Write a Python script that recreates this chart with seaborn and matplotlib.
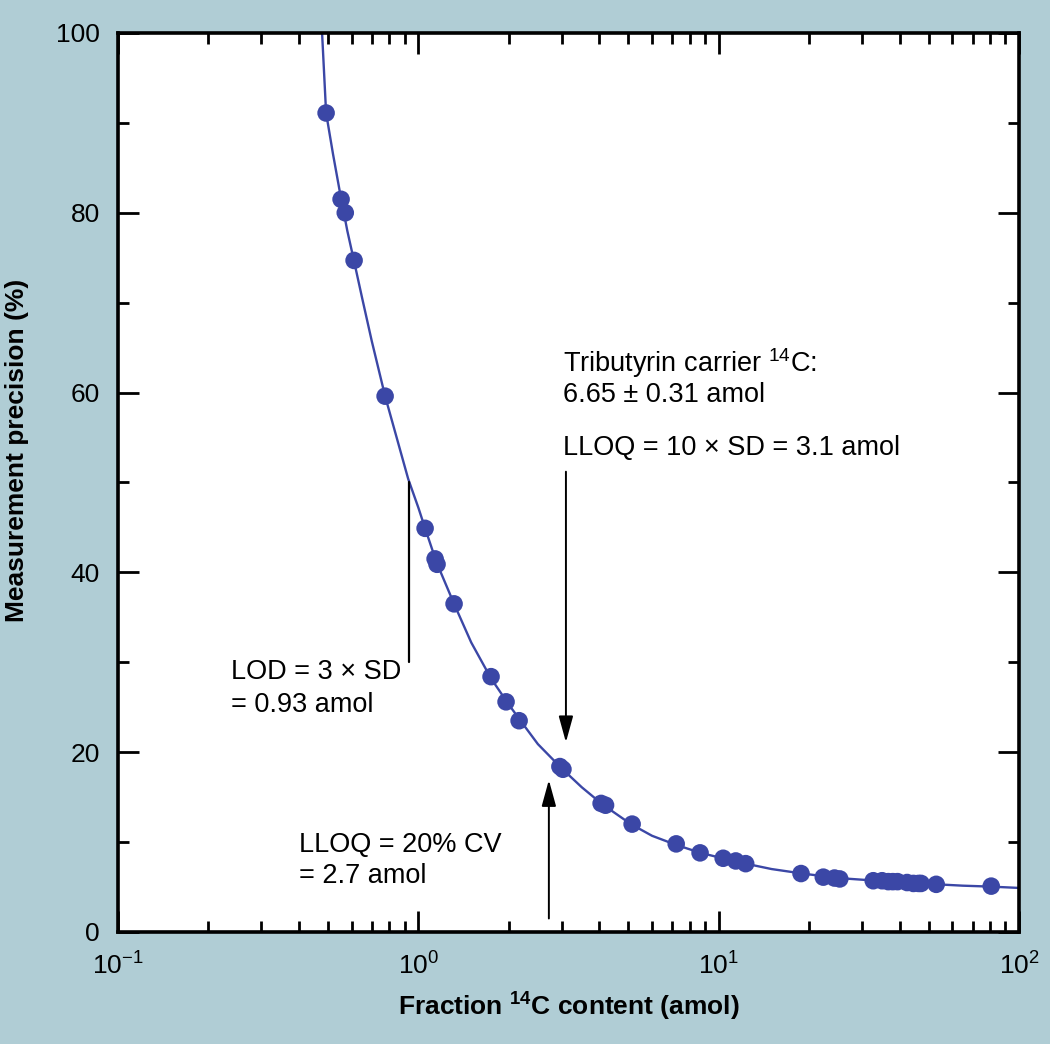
import numpy as np
import pandas as pd
import matplotlib
matplotlib.use('Agg')
import matplotlib.pyplot as plt
from matplotlib.ticker import MultipleLocator, LogLocator
import seaborn as sns

# measured points (amol, % precision)
amount = [0.493, 0.553, 0.571, 0.611, 0.775, 1.053, 1.137, 1.154, 1.315, 1.746,
          1.959, 2.165, 2.96, 3.03, 4.06, 4.2, 5.15, 7.22, 8.67, 10.35,
          11.4, 12.3, 18.8, 22.3, 24.3, 25.3, 32.7, 35.0, 36.7, 38.0,
          39.4, 42.4, 44.5, 46.3, 47.2, 53.0, 80.8]
precision = [91.1, 81.5, 80.0, 74.7, 59.6, 44.9, 41.5, 40.9, 36.5, 28.4,
             25.6, 23.5, 18.4, 18.1, 14.3, 14.1, 12.0, 9.8, 8.8, 8.2,
             7.9, 7.6, 6.5, 6.1, 6.0, 5.9, 5.7, 5.7, 5.6, 5.6,
             5.6, 5.5, 5.4, 5.4, 5.4, 5.3, 5.1]

# fitted curve
fit_x = [0.478, 0.493, 0.52, 0.55, 0.58, 0.611, 0.65, 0.70, 0.775, 0.85,
         0.925, 1.0, 1.053, 1.15, 1.315, 1.5, 1.746, 2.0, 2.2, 2.5,
         3.0, 3.5, 4.1, 5.1, 6.0, 7.2, 8.7, 10.3, 12.3, 15.0,
         19.0, 25.0, 32.0, 40.0, 50.0, 65.0, 80.0, 100.0]
fit_y = [100.0, 91.1, 86.5, 82.0, 78.0, 74.6, 70.5, 65.7, 59.6, 54.8,
         50.4, 47.2, 44.9, 41.1, 36.5, 32.2, 28.2, 25.3, 23.4, 20.9,
         18.2, 16.1, 14.2, 12.0, 10.7, 9.7, 8.8, 8.2, 7.6, 7.0,
         6.5, 6.0, 5.75, 5.5, 5.35, 5.15, 5.05, 4.9]

pts = pd.DataFrame({'x': amount, 'y': precision})
fit = pd.DataFrame({'x': fit_x, 'y': fit_y})

sns.set_style('ticks')
plt.rcParams['font.family'] = ['Liberation Sans', 'DejaVu Sans']
plt.rcParams['mathtext.fontset'] = 'custom'
plt.rcParams['mathtext.rm'] = 'Liberation Sans'
plt.rcParams['mathtext.bf'] = 'Liberation Sans:bold'
plt.rcParams['mathtext.default'] = 'regular'
for k in ['text.color', 'axes.labelcolor', 'xtick.color', 'ytick.color']:
    plt.rcParams[k] = 'black'

bg = '#b0cdd5'
blue = '#3b47a6'

fig = plt.figure(figsize=(10.5, 10.44), dpi=100, facecolor=bg)
ax = fig.add_axes([0.1124, 0.1073, 0.8581, 0.8611])
ax.set_facecolor('white')

sns.lineplot(data=fit, x='x', y='y', ax=ax, color=blue, lw=1.7, sort=False, zorder=2)
sns.scatterplot(data=pts, x='x', y='y', ax=ax, color=blue, s=160, edgecolor='none', zorder=3)

ax.set_xscale('log')
ax.set_xlim(0.1, 100)
ax.set_ylim(0, 100)
ax.yaxis.set_major_locator(MultipleLocator(20))
ax.yaxis.set_minor_locator(MultipleLocator(10))
ax.xaxis.set_minor_locator(LogLocator(base=10, subs=np.arange(2, 10)))

for s in ax.spines.values():
    s.set_linewidth(2.6)
    s.set_color('black')
ax.tick_params(which='both', direction='in', top=True, right=True, width=2, color='black')
ax.tick_params(which='major', length=15, labelsize=19, pad=13)
ax.tick_params(which='minor', length=8)
ax.tick_params(axis='x', which='major', pad=15)

ax.set_xlabel('Fraction $^{14}$C content (amol)', fontsize=19, fontweight='bold', labelpad=8)
ax.set_ylabel('Measurement precision (%)', fontsize=19, fontweight='bold')
ax.yaxis.set_label_coords(-0.099, 0.536)

# annotations
ax.plot([0.93, 0.93], [30, 50], color='black', lw=1.6)
arrow = dict(arrowstyle='-|>,head_length=0.8,head_width=0.22', color='black', lw=1.4,
             shrinkA=0, shrinkB=0, mutation_scale=20)
ax.annotate('', xy=(3.1, 21.1), xytext=(3.1, 51.2), arrowprops=arrow)
ax.annotate('', xy=(2.72, 16.9), xytext=(2.72, 1.5), arrowprops=arrow)

fs = 19.5
ax.text(3.03, 62.3, 'Tributyrin carrier $^{14}$C:', fontsize=fs, va='baseline')
ax.text(3.03, 59.0, '6.65 ± 0.31 amol', fontsize=fs, va='baseline')
ax.text(3.03, 53.1, 'LLOQ = 10 × SD = 3.1 amol', fontsize=fs, va='baseline')
ax.text(0.238, 28.1, 'LOD = 3 × SD', fontsize=fs, va='baseline')
ax.text(0.238, 24.5, '= 0.93 amol', fontsize=fs, va='baseline')
ax.text(0.401, 8.9, 'LLOQ = 20% CV', fontsize=fs, va='baseline')
ax.text(0.401, 5.45, '= 2.7 amol', fontsize=fs, va='baseline')

fig.savefig('out.png', dpi=100, facecolor=bg)
